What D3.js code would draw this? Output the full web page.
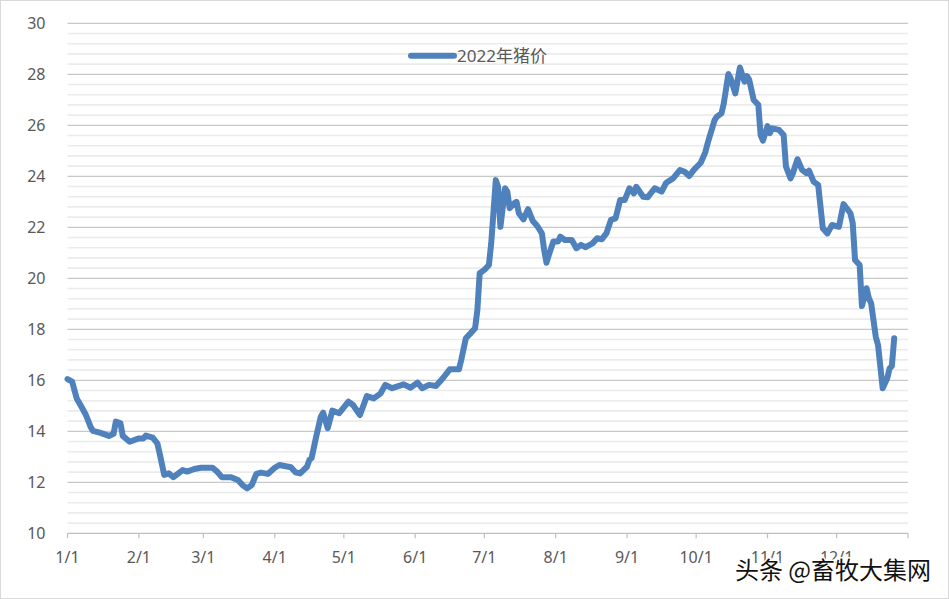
<!DOCTYPE html>
<html>
<head>
<meta charset="utf-8">
<script src="https://cdn.jsdelivr.net/npm/d3@7"></script>
<style>
  html, body { margin: 0; padding: 0; background: #fff; }
  svg { display: block; }
</style>
</head>
<body>
<svg id="chart" width="949" height="599"></svg>
<script>
// 2022 hog price
const dates = [
  "01-01","01-03","01-05","01-07","01-09","01-11","01-12","01-15","01-19","01-21",
  "01-22","01-24","01-25","01-28","02-01","02-03","02-04","02-07","02-09","02-10",
  "02-12","02-14","02-16","02-20","02-22","02-25","02-28","03-05","03-07","03-09",
  "03-13","03-16","03-18","03-20","03-22","03-24","03-26","03-29","04-01","04-03",
  "04-08","04-10","04-12","04-15","04-16","04-17","04-19","04-21","04-22","04-24",
  "04-26","04-29","05-03","05-05","05-08","05-11","05-14","05-17","05-19","05-22",
  "05-27","05-30","06-02","06-04","06-07","06-10","06-13","06-16","06-20","06-21",
  "06-23","06-25","06-27","06-28","06-29","07-01","07-03","07-04","07-06","07-07",
  "07-08","07-10","07-11","07-12","07-14","07-15","07-16","07-18","07-20","07-22",
  "07-24","07-26","07-27","07-28","07-29","07-31","08-02","08-03","08-05","08-08",
  "08-10","08-12","08-14","08-17","08-19","08-21","08-23","08-25","08-27","08-29",
  "08-31","09-02","09-04","09-05","09-08","09-10","09-13","09-16","09-18","09-21",
  "09-24","09-26","09-28","09-30","10-03","10-05","10-06","10-08","10-09","10-10",
  "10-12","10-13","10-15","10-16","10-18","10-20","10-22","10-23","10-24","10-26",
  "10-28","10-29","10-30","11-01","11-02","11-03","11-06","11-08","11-09","11-11",
  "11-12","11-14","11-16","11-18","11-19","11-21","11-23","11-24","11-25","11-27",
  "11-29","12-02","12-04","12-07","12-08","12-09","12-11","12-12","12-14","12-15",
  "12-16","12-18","12-19","12-21","12-23","12-24","12-25","12-26"
];
const prices = [
  16.05,15.95,15.29,14.97,14.64,14.18,14.02,13.95,13.82,13.90,
  14.38,14.31,13.82,13.59,13.72,13.72,13.83,13.75,13.53,13.14,
  12.29,12.35,12.20,12.48,12.42,12.52,12.57,12.57,12.42,12.20,
  12.20,12.09,11.89,11.76,11.89,12.33,12.38,12.33,12.57,12.68,
  12.59,12.39,12.35,12.61,12.87,12.95,13.79,14.57,14.73,14.12,
  14.81,14.71,15.16,15.03,14.64,15.38,15.29,15.49,15.82,15.69,
  15.84,15.71,15.91,15.69,15.82,15.78,16.08,16.43,16.43,16.80,
  17.65,17.84,18.04,18.76,20.20,20.33,20.52,21.37,23.85,23.59,
  22.02,23.53,23.40,22.75,22.94,23.00,22.55,22.31,22.71,22.26,
  22.05,21.76,21.11,20.61,20.91,21.44,21.44,21.63,21.50,21.50,
  21.18,21.31,21.22,21.37,21.57,21.53,21.76,22.29,22.35,23.07,
  23.07,23.53,23.33,23.59,23.20,23.18,23.53,23.40,23.75,23.92,
  24.25,24.18,24.01,24.25,24.53,24.95,25.30,25.90,26.20,26.34,
  26.47,26.86,28.01,27.84,27.25,28.27,27.71,27.93,27.80,26.99,
  26.80,25.62,25.40,25.97,25.69,25.88,25.82,25.62,24.38,23.92,
  24.12,24.67,24.25,24.12,24.22,23.79,23.66,22.81,21.96,21.76,
  22.09,22.02,22.91,22.55,22.16,20.72,20.52,18.91,19.61,19.22,
  19.02,17.71,17.38,15.69,16.08,16.47,16.56,17.65
];
const monthTicks = ["01-01","02-01","03-01","04-01","05-01","06-01","07-01","08-01","09-01","10-01","11-01","12-01"];
const yTicks = [10, 12, 14, 16, 18, 20, 22, 24, 26, 28, 30];
const seriesName = "2022年猪价";
const watermark = "头条 @畜牧大集网";

const parse = d3.timeParse("%Y-%m-%d");
const data = dates.map((d, i) => ({ date: parse("2022-" + d), value: prices[i] }));

const svg = d3.select("#chart");
const W = 949, H = 599;
const m = { left: 67.5, right: 908, top: 23.3, bottom: 533.3 };
const font = "'Noto Sans', 'Noto Sans CJK SC', sans-serif";

svg.append("rect")
    .attr("x", 0.5).attr("y", 0.5)
    .attr("width", W - 1).attr("height", H - 1)
    .attr("fill", "#fff")
    .attr("stroke", "#d9d9d9");

const x = d3.scaleTime()
    .domain([parse("2022-01-01"), parse("2023-01-01")])
    .range([m.left, m.right]);
const y = d3.scaleLinear().domain([10, 30]).range([m.bottom, m.top]);

// minor gridlines every 0.4
const minor = d3.range(10.4, 30, 0.4).filter(v => Math.abs(v / 2 - Math.round(v / 2)) > 0.01);
svg.append("g").selectAll("line")
    .data(minor)
    .join("line")
    .attr("x1", m.left).attr("x2", m.right)
    .attr("y1", d => y(d)).attr("y2", d => y(d))
    .attr("stroke", "#ebebeb")
    .attr("stroke-width", 1.6);

// major gridlines
svg.append("g").selectAll("line")
    .data(yTicks.filter(v => v > 10))
    .join("line")
    .attr("x1", m.left).attr("x2", m.right)
    .attr("y1", d => y(d)).attr("y2", d => y(d))
    .attr("stroke", "#c8c8c8")
    .attr("stroke-width", 1.2);

// y axis labels
svg.append("g").selectAll("text")
    .data(yTicks)
    .join("text")
    .attr("x", 45.5)
    .attr("y", d => y(d))
    .attr("dy", "0.35em")
    .attr("text-anchor", "end")
    .attr("font-family", font)
    .attr("font-size", 16)
    .attr("fill", "#595959")
    .text(d => d);

// x axis
const xAxis = svg.append("g").attr("transform", `translate(0,${m.bottom})`);
xAxis.append("line")
    .attr("x1", m.left).attr("x2", m.right)
    .attr("stroke", "#bfbfbf").attr("stroke-width", 1.2);
const tickDates = monthTicks.map(d => parse("2022-" + d)).concat([parse("2023-01-01")]);
xAxis.selectAll(".tick")
    .data(tickDates)
    .join("line")
    .attr("class", "tick")
    .attr("x1", d => x(d)).attr("x2", d => x(d))
    .attr("y1", 0).attr("y2", 5)
    .attr("stroke", "#bfbfbf").attr("stroke-width", 1.2);
xAxis.selectAll(".lbl")
    .data(monthTicks)
    .join("text")
    .attr("class", "lbl")
    .attr("x", d => x(parse("2022-" + d)))
    .attr("y", 24)
    .attr("dy", "0.35em")
    .attr("text-anchor", "middle")
    .attr("font-family", font)
    .attr("font-size", 16)
    .attr("fill", "#595959")
    .text(d => d3.timeFormat("%-m/%-d")(parse("2022-" + d)));

// price line
const line = d3.line()
    .x(d => x(d.date))
    .y(d => y(d.value));
svg.append("path")
    .datum(data)
    .attr("d", line)
    .attr("fill", "none")
    .attr("stroke", "#4f81bd")
    .attr("stroke-width", 6)
    .attr("stroke-linejoin", "round")
    .attr("stroke-linecap", "round");

// legend
const legend = svg.append("g").attr("transform", "translate(411,55.7)");
legend.append("line")
    .attr("x1", 0).attr("x2", 43)
    .attr("stroke", "#4f81bd")
    .attr("stroke-width", 6)
    .attr("stroke-linecap", "round");
legend.append("text")
    .attr("x", 46)
    .attr("dy", "0.35em")
    .attr("font-family", font)
    .attr("font-size", 17)
    .attr("fill", "#595959")
    .text(seriesName);

// watermark
svg.append("text")
    .attr("x", 931)
    .attr("y", 571)
    .attr("dy", "0.35em")
    .attr("text-anchor", "end")
    .attr("font-family", "'Noto Sans CJK SC', sans-serif")
    .attr("font-size", 24)
    .attr("fill", "#111")
    .attr("stroke", "#fff")
    .attr("stroke-width", 3)
    .attr("paint-order", "stroke")
    .text(watermark);
</script>
</body>
</html>
